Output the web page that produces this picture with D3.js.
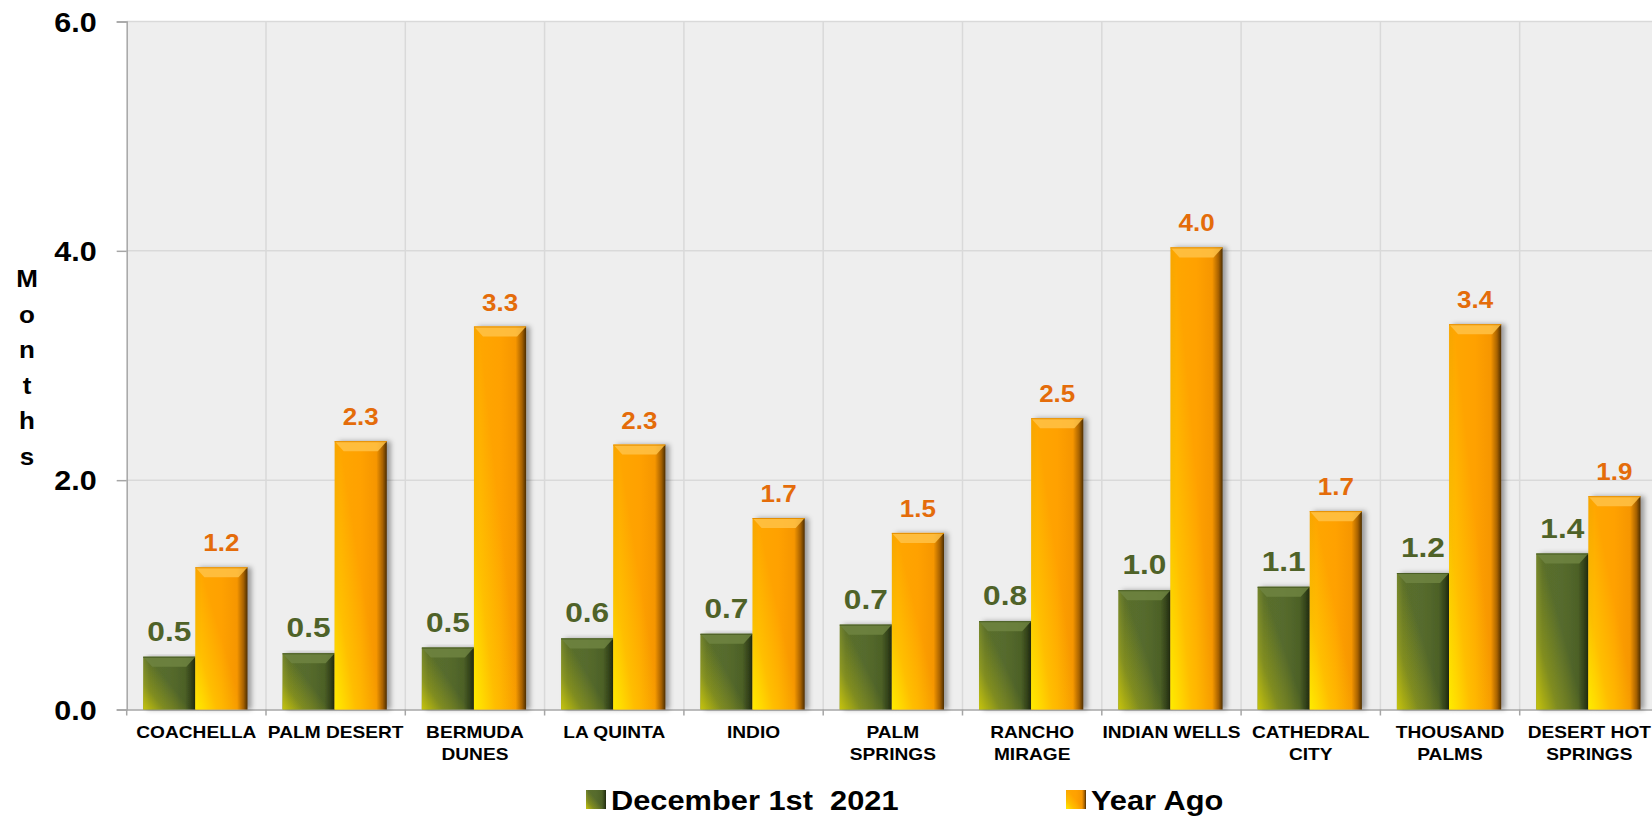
<!DOCTYPE html>
<html>
<head>
<meta charset="utf-8">
<script src="https://cdn.jsdelivr.net/npm/d3@7"></script>
<style>
  html, body { margin: 0; padding: 0; background: #ffffff; }
  svg { display: block; font-family: "Liberation Sans", Arial, sans-serif; }
</style>
</head>
<body>
<svg id="chart" width="1652" height="817"></svg>
<script>
// ---- data ----
const categories = ["COACHELLA", "PALM DESERT", "BERMUDA\nDUNES", "LA QUINTA", "INDIO", "PALM\nSPRINGS", "RANCHO\nMIRAGE", "INDIAN WELLS", "CATHEDRAL\nCITY", "THOUSAND\nPALMS", "DESERT HOT\nSPRINGS"];
const currentValues = [0.46, 0.49, 0.54, 0.62, 0.66, 0.74, 0.77, 1.04, 1.07, 1.19, 1.36];
const yearAgoValues = [1.24, 2.34, 3.34, 2.31, 1.67, 1.54, 2.54, 4.03, 1.73, 3.36, 1.86];
const seriesNames = ["December 1st  2021", "Year Ago"];
const yTicks = [0, 2, 4, 6];
const yAxisTitle = "Months";

// ---- layout ----
const svg = d3.select("#chart");
const plotLeft = 126.7, plotTop = 21.5, plotBottom = 709.5;
const bandW = 139.3;
const plotRight = plotLeft + bandW * categories.length;
const SX = 1.13; // horizontal text stretch

const x = d3.scaleBand().domain(categories).range([plotLeft, plotRight]).padding(0);
const xSub = d3.scaleBand().domain(["cur", "ago"]).range([16.5, x.bandwidth() - 18.5]).padding(0);
const y = d3.scaleLinear().domain([0, 6]).range([plotBottom, plotTop]);

// ---- defs ----
const defs = svg.append("defs");
function hGrad(id, stops) {
  const g = defs.append("linearGradient").attr("id", id).attr("x1", 0).attr("x2", 1).attr("y1", 0).attr("y2", 0);
  stops.forEach(s => g.append("stop").attr("offset", s[0]).attr("stop-color", s[1]));
}
function dGrad(id, color) {
  const g = defs.append("linearGradient").attr("id", id).attr("x1", 0).attr("y1", 1).attr("x2", 0.55).attr("y2", 0.55);
  g.append("stop").attr("offset", 0).attr("stop-color", color).attr("stop-opacity", 0.95);
  g.append("stop").attr("offset", 0.45).attr("stop-color", color).attr("stop-opacity", 0.35);
  g.append("stop").attr("offset", 1).attr("stop-color", color).attr("stop-opacity", 0);
}
hGrad("gGreen", [[0, "#6d7f30"], [0.12, "#5b6f2c"], [0.5, "#566b2d"], [0.8, "#4d6127"], [0.92, "#34431a"], [1, "#1f280e"]]);
hGrad("gOrange", [[0, "#f7a000"], [0.12, "#ffa600"], [0.5, "#ffa100"], [0.8, "#f69600"], [0.92, "#a86200"], [1, "#4d2e00"]]);
dGrad("gGreenGlow", "#c9c60a");
dGrad("gOrangeGlow", "#fff000");
const flt = defs.append("filter").attr("id", "shadow").attr("x", "-20%").attr("y", "-5%").attr("width", "150%").attr("height", "115%");
flt.append("feDropShadow").attr("dx", 4).attr("dy", 0).attr("stdDeviation", 2.5).attr("flood-color", "#000").attr("flood-opacity", 0.35);

// ---- plot background & grid ----
svg.append("rect").attr("x", plotLeft).attr("y", plotTop).attr("width", plotRight - plotLeft).attr("height", plotBottom - plotTop).attr("fill", "#eeeeee");

svg.append("g").selectAll("line").data(yTicks.filter(t => t > 0)).join("line")
  .attr("x1", plotLeft).attr("x2", plotRight).attr("y1", d => y(d)).attr("y2", d => y(d))
  .attr("stroke", "#d9d9d9").attr("stroke-width", 1.5);

svg.append("g").selectAll("line").data(categories.slice(1)).join("line")
  .attr("x1", d => x(d)).attr("x2", d => x(d)).attr("y1", plotTop).attr("y2", plotBottom)
  .attr("stroke", "#d9d9d9").attr("stroke-width", 1.5);

// ---- axes ----
const yAxis = svg.append("g").attr("transform", `translate(${plotLeft},0)`)
  .call(d3.axisLeft(y).tickValues(yTicks).tickSize(10).tickFormat(d3.format(".1f")));
yAxis.select(".domain").attr("stroke", "#a6a6a6").attr("stroke-width", 1.5);
yAxis.selectAll(".tick line").attr("stroke", "#a6a6a6").attr("stroke-width", 1.5);
yAxis.selectAll(".tick text").remove();
yAxis.selectAll(".tick").append("text")
  .attr("transform", `translate(-30,0) scale(${SX},1)`)
  .attr("dy", "0.36em").attr("text-anchor", "end")
  .attr("font-size", 27).attr("font-weight", "bold").attr("fill", "#000")
  .text(d => d3.format(".1f")(d));

const xAxis = svg.append("g").attr("transform", `translate(0,${plotBottom})`)
  .call(d3.axisBottom(x).tickSize(0).tickFormat(""));
xAxis.select(".domain").attr("stroke", "#a6a6a6").attr("stroke-width", 1.5);
svg.append("g").selectAll("line").data(categories.concat(["__end"])).join("line")
  .attr("x1", (d, i) => plotLeft + i * x.step()).attr("x2", (d, i) => plotLeft + i * x.step())
  .attr("y1", plotBottom).attr("y2", plotBottom + 6)
  .attr("stroke", "#a6a6a6").attr("stroke-width", 1.5);

// category labels
const catG = svg.append("g").selectAll("g").data(categories).join("g")
  .attr("transform", d => `translate(${x(d) + x.bandwidth() / 2},738) scale(1.16,1)`);
catG.each(function (d) {
  const lines = d.split("\n");
  d3.select(this).selectAll("text").data(lines).join("text")
    .attr("x", 0).attr("y", (l, i) => i * 22)
    .attr("text-anchor", "middle").attr("font-size", 16.5).attr("font-weight", "bold").attr("fill", "#000")
    .text(l => l);
});

// ---- bars ----
const series = [
  { key: "cur", values: currentValues, fill: "url(#gGreen)", glow: "url(#gGreenGlow)", bevel: "#6f8441", bevelSide: "#4a5d24", label: "#4f6228", fs: 28 },
  { key: "ago", values: yearAgoValues, fill: "url(#gOrange)", glow: "url(#gOrangeGlow)", bevel: "#ffc246", bevelSide: "#e48e00", label: "#e46c0a", fs: 23 }
];
series.forEach(s => {
  const g = svg.append("g");
  const data = categories.map((c, i) => ({ c, v: s.values[i] }));
  const bx = d => x(d.c) + xSub(s.key);
  const bw = xSub.bandwidth();
  g.selectAll("rect.base").data(data).join("rect").attr("class", "base")
    .attr("x", bx).attr("y", d => y(d.v)).attr("width", bw).attr("height", d => y(0) - y(d.v))
    .attr("fill", s.fill).attr("filter", "url(#shadow)");
  g.selectAll("rect.glow").data(data).join("rect").attr("class", "glow")
    .attr("x", bx).attr("y", d => y(d.v)).attr("width", bw).attr("height", d => y(0) - y(d.v))
    .attr("fill", s.glow);
  g.selectAll("polygon.bevel").data(data).join("polygon").attr("class", "bevel")
    .attr("points", d => {
      const x0 = bx(d), t = y(d.v);
      return [[x0, t], [x0 + bw, t], [x0 + bw - 9, t + 10], [x0 + 9, t + 10]].map(p => p.join(",")).join(" ");
    })
    .attr("fill", s.bevel).attr("opacity", 0.85);
  g.selectAll("line.bevelEdge").data(data).join("line").attr("class", "bevelEdge")
    .attr("x1", bx).attr("x2", d => bx(d) + bw).attr("y1", d => y(d.v) + 0.5).attr("y2", d => y(d.v) + 0.5)
    .attr("stroke", s.bevelSide).attr("stroke-width", 1);
  g.selectAll("text").data(data).join("text")
    .attr("transform", d => `translate(${bx(d) + bw / 2},${y(d.v) - 16}) scale(${SX},1)`)
    .attr("text-anchor", "middle").attr("font-size", s.fs).attr("font-weight", "bold").attr("fill", s.label)
    .text(d => d3.format(".1f")(d.v));
});

// ---- y axis title (stacked letters) ----
svg.append("g").selectAll("text").data(yAxisTitle.split("")).join("text")
  .attr("transform", (d, i) => `translate(27,${287 + i * 35.6}) scale(${SX},1)`)
  .attr("text-anchor", "middle").attr("font-size", 23).attr("font-weight", "bold").attr("fill", "#000")
  .text(d => d);

// ---- legend ----
const legendX = [586, 1066];
const legendFill = ["url(#gGreen)", "url(#gOrange)"];
const legendGlow = ["url(#gGreenGlow)", "url(#gOrangeGlow)"];
const lg = svg.append("g").selectAll("g").data(seriesNames).join("g")
  .attr("transform", (d, i) => `translate(${legendX[i]},790)`);
lg.append("rect").attr("width", 20).attr("height", 19).attr("fill", (d, i) => legendFill[i]);
lg.append("rect").attr("width", 20).attr("height", 19).attr("fill", (d, i) => legendGlow[i]);
lg.append("text").attr("transform", `translate(25,19.5) scale(1.12,1)`)
  .attr("font-size", 27.5).attr("font-weight", "bold").attr("fill", "#000")
  .attr("xml:space", "preserve").style("white-space", "pre")
  .text(d => d);
</script>
</body>
</html>
